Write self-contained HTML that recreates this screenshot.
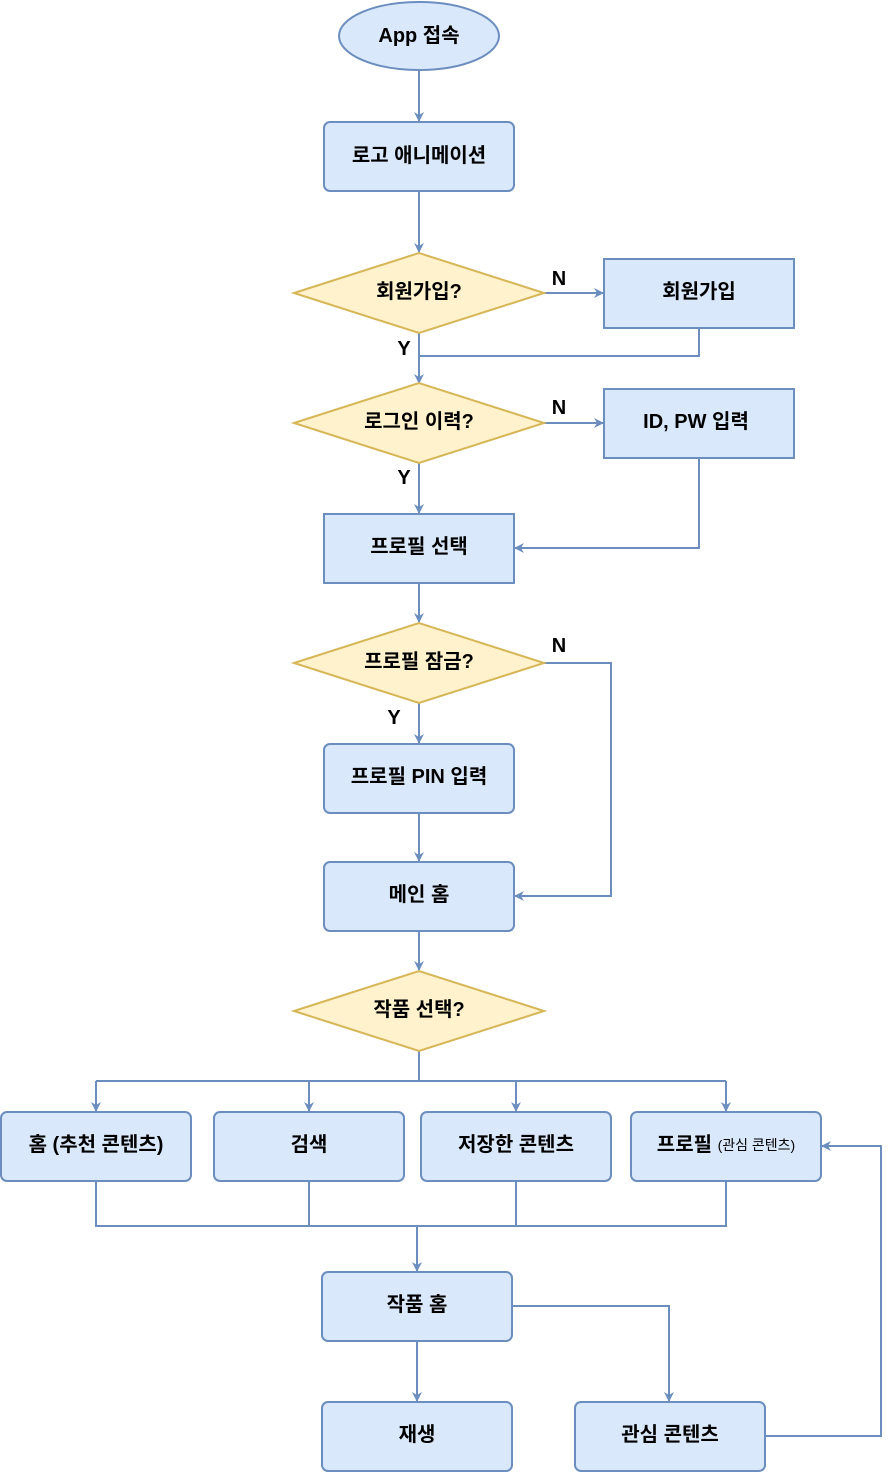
<!DOCTYPE html>
<html><head><meta charset="utf-8"><style>
html,body{margin:0;padding:0;background:#fff;}
svg{display:block;}
text{font-family:"Liberation Sans","Noto Sans CJK KR",sans-serif;font-weight:bold;font-size:20px;fill:#000;}
</style></head><body>
<svg width="893" height="1473" viewBox="0 0 893 1473" xmlns="http://www.w3.org/2000/svg">
<defs>
<marker id="a" viewBox="0 0 10 10" refX="9" refY="5" markerWidth="10" markerHeight="10" markerUnits="userSpaceOnUse" orient="auto">
<path d="M0,0 L10,5 L0,10 L3,5 Z" fill="#6c8ebf"/>
</marker>
</defs>
<g fill="none" stroke="#6c8ebf" stroke-width="2">
<path d="M419,70 V121" marker-end="url(#a)"/>
<path d="M419,191 V252" marker-end="url(#a)"/>
<path d="M544,293 H603" marker-end="url(#a)"/>
<path d="M699,328 V356 H419"/>
<path d="M419,333 V383" marker-end="url(#a)"/>
<path d="M544,423 H603" marker-end="url(#a)"/>
<path d="M419,463 V513" marker-end="url(#a)"/>
<path d="M699,458 V548 H515" marker-end="url(#a)"/>
<path d="M419,583 V622" marker-end="url(#a)"/>
<path d="M544,663 H611 V896 H515" marker-end="url(#a)"/>
<path d="M419,703 V743" marker-end="url(#a)"/>
<path d="M419,813 V861" marker-end="url(#a)"/>
<path d="M419,931 V970" marker-end="url(#a)"/>
<path d="M419,1051 V1081 M96,1081 H726"/>
<path d="M96,1081 V1111" marker-end="url(#a)"/>
<path d="M309,1081 V1111" marker-end="url(#a)"/>
<path d="M516,1081 V1111" marker-end="url(#a)"/>
<path d="M726,1081 V1111" marker-end="url(#a)"/>
<path d="M96,1181 V1226 H726 V1181 M309,1181 V1226 M516,1181 V1226"/>
<path d="M417,1226 V1271" marker-end="url(#a)"/>
<path d="M417,1341 V1401" marker-end="url(#a)"/>
<path d="M512,1306 H669 V1401" marker-end="url(#a)"/>
<path d="M764,1436 H881 V1146 H822" marker-end="url(#a)"/>
</g>
<g fill="#dae8fc" stroke="#6c8ebf" stroke-width="2">
<ellipse cx="419" cy="36" rx="80" ry="34"/>
<rect x="324" y="122" width="190" height="69" rx="6"/>
<rect x="604" y="259" width="190" height="69"/>
<rect x="604" y="389" width="190" height="69"/>
<rect x="324" y="514" width="190" height="69"/>
<rect x="324" y="744" width="190" height="69" rx="6"/>
<rect x="324" y="862" width="190" height="69" rx="6"/>
<rect x="1" y="1112" width="190" height="69" rx="6"/>
<rect x="214" y="1112" width="190" height="69" rx="6"/>
<rect x="421" y="1112" width="190" height="69" rx="6"/>
<rect x="631" y="1112" width="190" height="69" rx="6"/>
<rect x="322" y="1272" width="190" height="69" rx="6"/>
<rect x="322" y="1402" width="190" height="69" rx="6"/>
<rect x="575" y="1402" width="190" height="69" rx="6"/>
</g>
<g fill="#fff2cc" stroke="#d6b656" stroke-width="2">
<path d="M294,293 L419,253 L544,293 L419,333 Z"/>
<path d="M294,423 L419,383 L544,423 L419,463 Z"/>
<path d="M294,663 L419,623 L544,663 L419,703 Z"/>
<path d="M294,1011 L419,971 L544,1011 L419,1051 Z"/>
</g>
<g text-anchor="middle" dominant-baseline="central">
<text x="419" y="36">App 접속</text>
<text x="419" y="156">로고 애니메이션</text>
<text x="419" y="292">회원가입?</text>
<text x="699" y="292">회원가입</text>
<text x="419" y="422">로그인 이력?</text>
<text x="696" y="422">ID, PW 입력</text>
<text x="419" y="547">프로필 선택</text>
<text x="419" y="662">프로필 잠금?</text>
<text x="419" y="777">프로필 PIN 입력</text>
<text x="419" y="895">메인 홈</text>
<text x="419" y="1010">작품 선택?</text>
<text x="96" y="1145">홈 (추천 콘텐츠)</text>
<text x="309" y="1145">검색</text>
<text x="516" y="1145">저장한 콘텐츠</text>
<text x="726" y="1145">프로필 <tspan font-size="14" font-weight="normal">(관심 콘텐츠)</tspan></text>
<text x="417" y="1305">작품 홈</text>
<text x="417" y="1435">재생</text>
<text x="670" y="1435">관심 콘텐츠</text>
<text x="559" y="279">N</text>
<text x="559" y="408">N</text>
<text x="559" y="646">N</text>
<text x="404" y="349">Y</text>
<text x="404" y="478">Y</text>
<text x="394" y="718">Y</text>
</g>
</svg>
</body></html>
